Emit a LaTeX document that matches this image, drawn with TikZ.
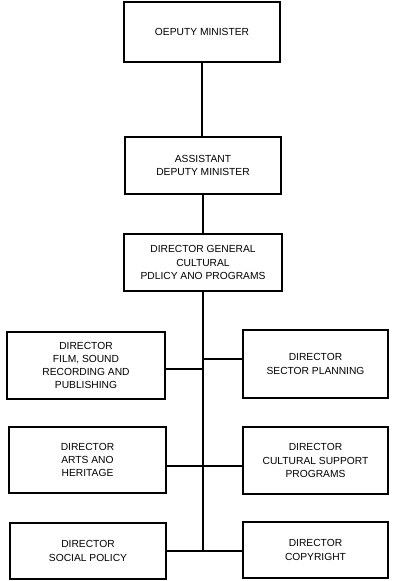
\documentclass[tikz,border=0pt]{standalone}
\usepackage{fontspec}
\newfontfamily\chartfont{Liberation Sans}
\begin{document}
\begin{tikzpicture}[x=1bp,y=-1bp,
  unit/.style={draw=black, line width=1.3bp, rectangle, align=center, inner sep=0pt,
    font=\chartfont\fontsize{10.3}{13.2}\selectfont},
  link/.style={draw=black, line width=1.3bp}]
  \fill[white] (0,0) rectangle (393,581);
  \useasboundingbox (0,0) rectangle (393,581);

  % upper chain
  \node[unit, minimum width=156bp, minimum height=60bp] (dm) at (202,32) {OEPUTY MINISTER};
  \node[unit, minimum width=156bp, minimum height=57bp] (adm) at (203,165.5) {ASSISTANT\\DEPUTY MINISTER};
  \node[unit, minimum width=158bp, minimum height=57bp] (dg) at (203,262.5) {DIRECTOR GENERAL\\CULTURAL\\PDLICY ANO PROGRAMS};

  % left column
  \node[unit, minimum width=158bp, minimum height=67bp] (film) at (86,365.5) {DIRECTOR\\FILM, SOUND\\RECORDING AND\\PUBLISHING};
  \node[unit, minimum width=157bp, minimum height=66bp] (arts) at (87.5,460) {DIRECTOR\\ARTS ANO\\HERITAGE};
  \node[unit, minimum width=156bp, minimum height=56bp] (social) at (88,551) {DIRECTOR\\SOCIAL POLICY};

  % right column
  \node[unit, minimum width=145bp, minimum height=68bp] (sector) at (315.5,364) {DIRECTOR\\SECTOR PLANNING};
  \node[unit, minimum width=145bp, minimum height=67bp] (cultural) at (315.5,460.5) {DIRECTOR\\CULTURAL SUPPORT\\PROGRAMS};
  \node[unit, minimum width=145bp, minimum height=56bp] (copyright) at (315.5,550) {DIRECTOR\\COPYRIGHT};

  % junctions on the trunk
  \coordinate (jfilm) at (203,369);
  \coordinate (jsector) at (203,359);
  \coordinate (jarts) at (203,466);
  \coordinate (jbottom) at (203,551);

  \draw[link] (dm.south) -- (dm.south |- adm.north);
  \draw[link] (adm.south) -- (adm.south |- dg.north);
  \draw[link] (dg.south) -- (jbottom);

  \draw[link] (film.east |- jfilm) -- (jfilm);
  \draw[link] (jsector) -- (sector.west |- jsector);
  \draw[link] (arts.east |- jarts) -- (jarts);
  \draw[link] (jarts) -- (cultural.west |- jarts);
  \draw[link] (social.east |- jbottom) -- (jbottom);
  \draw[link] (jbottom) -- (copyright.west |- jbottom);
\end{tikzpicture}
\end{document}
